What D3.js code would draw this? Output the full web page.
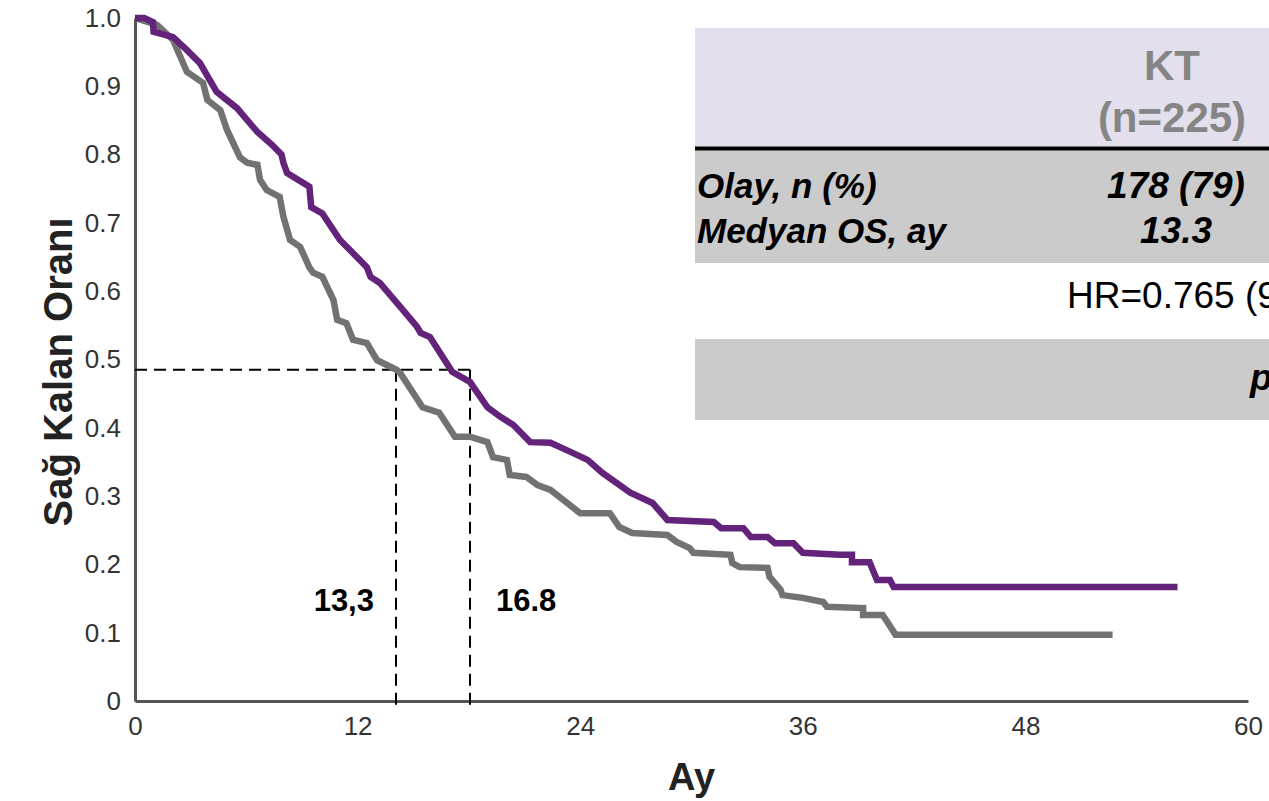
<!DOCTYPE html>
<html>
<head>
<meta charset="utf-8">
<script src="https://cdn.jsdelivr.net/npm/d3@7"></script>
<style>
  html, body { margin: 0; padding: 0; background: #fff; overflow: hidden; }
  svg { display: block; font-family: "Liberation Sans", Arial, sans-serif; }
</style>
</head>
<body>
<div id="vis"></div>
<script>
// survival curves: [month, survival]
var purpleCurve = [[0,1.0],[0.5,1.0],[0.97,0.994],[1.0,0.98],[2.05,0.972],[2.8,0.953],[3.5,0.934],[4.4,0.892],
  [5.5,0.868],[6.6,0.833],[7.4,0.814],[7.9,0.80],[8.0,0.788],[8.2,0.773],[9.4,0.753],[9.5,0.723],[10.1,0.714],
  [11.05,0.675],[11.6,0.660],[12.5,0.635],[12.7,0.621],[13.2,0.612],[14.3,0.577],[15.2,0.548],[15.4,0.539],
  [15.9,0.533],[17.1,0.482],[18.06,0.467],[19.0,0.430],[19.7,0.416],[20.4,0.404],[21.3,0.379],[22.4,0.378],
  [23.3,0.367],[24.4,0.353],[25.2,0.334],[26.7,0.305],[27.9,0.290],[28.7,0.265],[31.2,0.262],[31.6,0.253],
  [32.8,0.253],[33.2,0.240],[34.1,0.240],[34.5,0.231],[35.5,0.231],[36.0,0.217],[38.0,0.214],[38.65,0.214],
  [38.65,0.203],[39.6,0.203],[40.0,0.177],[40.7,0.177],[40.9,0.167],[56.2,0.167]];

var grayCurve = [[0,1.0],[1.19,0.99],[2.05,0.968],[2.8,0.921],[3.67,0.905],[3.9,0.88],[4.6,0.865],[4.96,0.836],
  [5.66,0.796],[6.04,0.788],[6.6,0.785],[6.74,0.763],[7.1,0.748],[7.8,0.738],[8.0,0.709],[8.36,0.675],[8.9,0.665],
  [9.4,0.635],[9.6,0.627],[10.1,0.621],[10.7,0.587],[10.9,0.558],[11.4,0.553],[11.75,0.529],[12.5,0.524],
  [13.05,0.499],[14.1,0.485],[14.3,0.48],[15.5,0.43],[16.4,0.422],[17.25,0.387],[18.06,0.387],[19.0,0.379],
  [19.3,0.357],[20.05,0.353],[20.2,0.331],[21.1,0.328],[21.7,0.316],[22.4,0.309],[24.0,0.275],[25.6,0.275],
  [26.1,0.255],[26.8,0.246],[28.7,0.243],[29.2,0.233],[29.9,0.224],[30.1,0.217],[32.1,0.214],[32.2,0.202],
  [32.6,0.196],[34.1,0.195],[34.2,0.182],[34.8,0.163],[34.9,0.155],[36.0,0.151],[37.1,0.145],[37.3,0.138],
  [39.25,0.136],[39.25,0.126],[40.3,0.126],[40.6,0.114],[41.0,0.097],[52.7,0.097]];

var xTicks = [0, 12, 24, 36, 48, 60];
var yTicks = [0, 0.1, 0.2, 0.3, 0.4, 0.5, 0.6, 0.7, 0.8, 0.9, 1.0];

// median guide lines (drawn position) and their labels
var medianLevel = 0.485;
var medianMonths = [14.07, 18.06];
var medianLabels = ["13,3", "16.8"];

// table text (right part runs off the slide, as in the source)
var tableHeader = ["KT", "(n=225)"];
var rowLabels = ["Olay, n (%)", "Medyan OS, ay"];
var rowValues = ["178 (79)", "13.3"];
var hrText = "HR=0.765 (95% GA: 0,615-0,951)";
var pText = "p=0,0156";

var width = 1269, height = 801;

var svg = d3.select("#vis").append("svg")
    .attr("width", width)
    .attr("height", height);

var x = d3.scaleLinear().domain([0, 60]).range([135, 1248]);
var y = d3.scaleLinear().domain([0, 1]).range([701, 18]);

// table boxes behind everything
var table = svg.append("g");
table.append("rect").attr("x", 695).attr("y", 28).attr("width", 600).attr("height", 120).attr("fill", "#e4dfec");
table.append("rect").attr("x", 695).attr("y", 150).attr("width", 600).attr("height", 113).attr("fill", "#cbcbcb");
table.append("line").attr("x1", 695).attr("x2", 1300).attr("y1", 148.5).attr("y2", 148.5)
    .attr("stroke", "#000").attr("stroke-width", 4);
table.append("rect").attr("x", 695).attr("y", 339).attr("width", 600).attr("height", 81).attr("fill", "#cbcbcb");

table.selectAll(".hdr").data(tableHeader).enter().append("text")
    .attr("x", 1172).attr("y", function(d, i) { return 80 + i * 52; })
    .attr("text-anchor", "middle")
    .style("font-size", "42px").style("font-weight", "bold").style("fill", "#858585")
    .text(function(d) { return d; });

table.selectAll(".lbl").data(rowLabels).enter().append("text")
    .attr("x", 697).attr("y", function(d, i) { return 198 + i * 45; })
    .style("font-size", "35px").style("font-weight", "bold").style("font-style", "italic")
    .text(function(d) { return d; });

table.selectAll(".val").data(rowValues).enter().append("text")
    .attr("x", 1176).attr("y", function(d, i) { return 198 + i * 45; })
    .attr("text-anchor", "middle")
    .style("font-size", "37px").style("font-weight", "bold").style("font-style", "italic")
    .text(function(d) { return d; });

table.append("text").attr("x", 1067).attr("y", 308)
    .style("font-size", "37px").text(hrText);

table.append("text").attr("x", 1250).attr("y", 390)
    .style("font-size", "37px").style("font-weight", "bold").style("font-style", "italic")
    .text(pText);

// axes
var xAxis = svg.append("g")
    .attr("transform", "translate(0," + y(0) + ")")
    .call(d3.axisBottom(x).tickValues(xTicks).tickSize(0).tickPadding(16).tickFormat(d3.format("d")));
var yAxis = svg.append("g")
    .attr("transform", "translate(" + x(0) + ",0)")
    .call(d3.axisLeft(y).tickValues(yTicks).tickSize(0).tickPadding(14)
      .tickFormat(function(d) { return d === 0 ? "0" : d3.format(".1f")(d); }));

[xAxis, yAxis].forEach(function(g) {
  g.select(".domain").attr("stroke", "#555").attr("stroke-width", 3);
  g.selectAll("text").style("font-size", "26px").style("fill", "#333")
    .style("font-family", "'Liberation Sans', Arial, sans-serif");
});

svg.append("text")
    .attr("x", x(30)).attr("y", 790)
    .attr("text-anchor", "middle")
    .style("font-size", "38px").style("font-weight", "bold").style("fill", "#222")
    .text("Ay");

svg.append("text")
    .attr("transform", "translate(72," + 372 + ") rotate(-90)")
    .attr("text-anchor", "middle")
    .style("font-size", "40px").style("font-weight", "bold").style("fill", "#222")
    .text("Sağ Kalan Oranı");

// median dashed guides
var guides = svg.append("g")
    .attr("stroke", "#000").attr("stroke-width", 2).attr("stroke-dasharray", "12,7").attr("fill", "none");
guides.append("line")
    .attr("x1", x(0)).attr("x2", x(d3.max(medianMonths)))
    .attr("y1", y(medianLevel)).attr("y2", y(medianLevel));
guides.selectAll(".v").data(medianMonths).enter().append("line")
    .attr("x1", function(d) { return x(d); }).attr("x2", function(d) { return x(d); })
    .attr("y1", y(medianLevel)).attr("y2", y(0) + 4);

svg.selectAll(".mlabel").data(medianLabels).enter().append("text")
    .attr("x", function(d, i) { return i === 0 ? x(medianMonths[0]) - 22 : x(medianMonths[1]) + 26; })
    .attr("y", 611)
    .attr("text-anchor", function(d, i) { return i === 0 ? "end" : "start"; })
    .style("font-size", "31px").style("font-weight", "bold")
    .text(function(d) { return d; });

// curves
var line = d3.line()
    .x(function(d) { return x(d[0]); })
    .y(function(d) { return y(d[1]); });

svg.append("path").datum(grayCurve)
    .attr("d", line).attr("fill", "none")
    .attr("stroke", "#727272").attr("stroke-width", 6.5).attr("stroke-linejoin", "miter");

svg.append("path").datum(purpleCurve)
    .attr("d", line).attr("fill", "none")
    .attr("stroke", "#63237b").attr("stroke-width", 6.5).attr("stroke-linejoin", "miter");
</script>
</body>
</html>
